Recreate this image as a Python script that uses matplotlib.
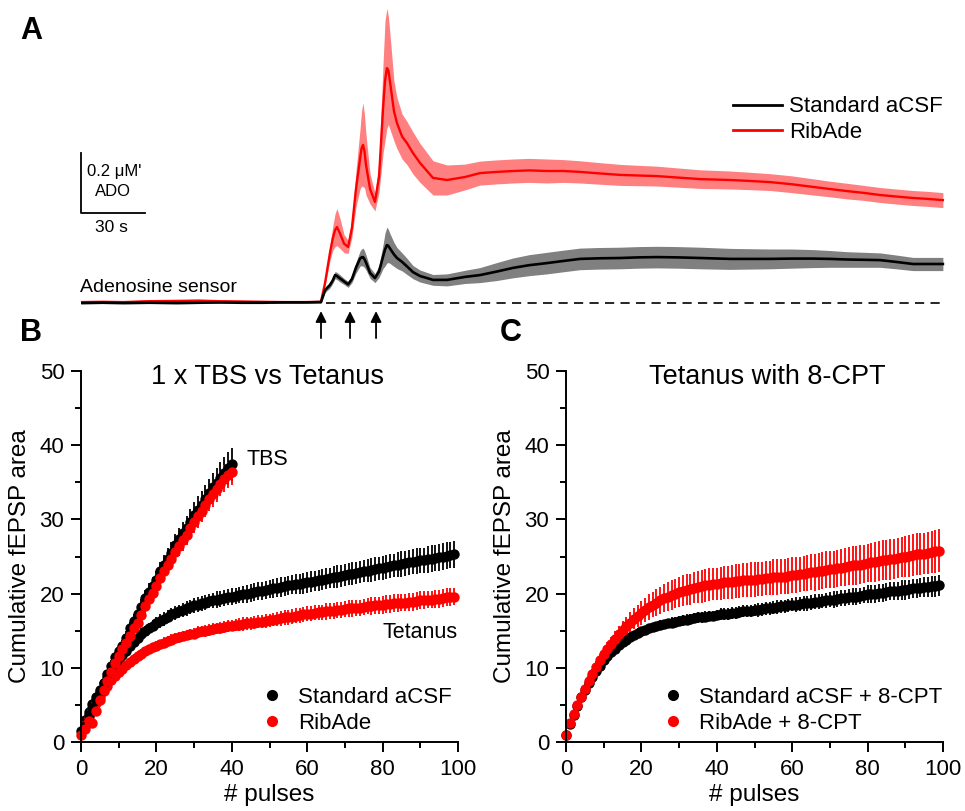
import numpy as np
import matplotlib
matplotlib.use("Agg")
import matplotlib.pyplot as plt
from matplotlib.lines import Line2D
from matplotlib.ticker import MultipleLocator

plt.rcParams["font.family"] = ["Liberation Sans", "DejaVu Sans"]

# --------------------------------------------------------------------------
# Panel A: adenosine sensor traces (seconds, uM)
# --------------------------------------------------------------------------
t_ado = [0, 10, 20, 32, 45, 55, 65, 75, 85, 95, 105, 112.5,
         114.4, 116.7, 118, 119.1, 120, 121.4, 123.3, 125.2, 127, 128.9,
         130.8, 131.5, 132.2, 132.9, 133.6, 135.5, 137.8, 139.7, 141.6, 142.5,
         143.4, 144.1, 144.8, 146.7, 148.1, 150.5, 152.8, 155.6, 158.9, 165,
         171.6, 180, 187, 195, 202.5, 210, 218.4, 226, 233.9, 243, 252.7,
         261, 270, 280, 290.2, 304.2, 313, 323, 333, 343.1, 351, 359.1,
         367, 374.5, 382, 390, 397, 404]
ribade_mean = [0.003, 0.004, 0.003, 0.006, 0.007, 0.008, 0.006, 0.005, 0.004, 0.003, 0.003, 0.004,
               0.067, 0.167, 0.215, 0.243, 0.253, 0.232, 0.198, 0.187, 0.250, 0.380,
               0.480, 0.515, 0.527, 0.505, 0.460, 0.380, 0.337, 0.420, 0.650, 0.740,
               0.783, 0.775, 0.740, 0.640, 0.600, 0.555, 0.533, 0.500, 0.467, 0.417,
               0.410, 0.420, 0.433, 0.437, 0.440, 0.442, 0.440, 0.440, 0.437, 0.432, 0.427,
               0.425, 0.423, 0.418, 0.413, 0.410, 0.407, 0.403, 0.396, 0.387, 0.380, 0.373,
               0.367, 0.360, 0.355, 0.350, 0.347, 0.343]
ribade_sem = [0.004, 0.004, 0.004, 0.004, 0.004, 0.004, 0.004, 0.004, 0.004, 0.004, 0.004, 0.004,
              0.010, 0.025, 0.040, 0.055, 0.062, 0.050, 0.030, 0.022, 0.030, 0.060,
              0.100, 0.125, 0.140, 0.120, 0.100, 0.050, 0.030, 0.050, 0.150, 0.200,
              0.200, 0.180, 0.160, 0.100, 0.085, 0.075, 0.072, 0.070, 0.065, 0.057,
              0.050, 0.043, 0.040, 0.040, 0.040, 0.040, 0.040, 0.038, 0.037, 0.036, 0.035,
              0.034, 0.033, 0.032, 0.031, 0.030, 0.029, 0.028, 0.028, 0.027, 0.026, 0.026,
              0.025, 0.025, 0.025, 0.025, 0.025, 0.025]
std_mean = [0.000, 0.001, 0.000, 0.001, 0.000, 0.001, 0.002, 0.001, 0.001, 0.002, 0.002, 0.003,
            0.043, 0.060, 0.075, 0.093, 0.090, 0.082, 0.072, 0.062, 0.080, 0.118,
            0.148, 0.152, 0.153, 0.146, 0.135, 0.100, 0.083, 0.105, 0.155, 0.178,
            0.193, 0.190, 0.182, 0.162, 0.150, 0.137, 0.122, 0.103, 0.090, 0.077,
            0.077, 0.087, 0.093, 0.105, 0.117, 0.126, 0.133, 0.140, 0.147, 0.149, 0.150,
            0.152, 0.153, 0.152, 0.150, 0.147, 0.147, 0.147, 0.148, 0.148, 0.147, 0.145,
            0.144, 0.143, 0.137, 0.130, 0.130, 0.130]
std_sem = [0.003, 0.003, 0.003, 0.003, 0.003, 0.003, 0.003, 0.003, 0.003, 0.003, 0.003, 0.003,
           0.008, 0.010, 0.010, 0.012, 0.012, 0.012, 0.010, 0.010, 0.012, 0.018,
           0.025, 0.028, 0.030, 0.028, 0.025, 0.018, 0.015, 0.020, 0.040, 0.055,
           0.060, 0.055, 0.050, 0.040, 0.035, 0.030, 0.027, 0.022, 0.020, 0.018,
           0.020, 0.022, 0.025, 0.030, 0.033, 0.035, 0.036, 0.036, 0.036, 0.036, 0.036,
           0.036, 0.036, 0.036, 0.036, 0.035, 0.034, 0.033, 0.032, 0.030, 0.028, 0.026,
           0.025, 0.024, 0.023, 0.022, 0.022, 0.022]
stim_times = [112.5, 126.1, 138.3]

# --------------------------------------------------------------------------
# Panel B: 1 x TBS vs tetanus, cumulative fEPSP area
# --------------------------------------------------------------------------
pulses_tet = np.arange(0, 100)
pulses_tbs = np.arange(1, 41)

tet_std = [1.5, 2.9, 4.0, 5.1, 6.1, 7.0, 7.9, 8.7, 9.5, 10.3,
           11.1, 11.7, 12.3, 12.9, 13.5, 14.0, 14.5, 14.9, 15.3, 15.7,
           16.0, 16.3, 16.6, 16.9, 17.2, 17.4, 17.6, 17.8, 18.0, 18.2,
           18.4, 18.5, 18.7, 18.8, 19.0, 19.1, 19.2, 19.3, 19.4, 19.5,
           19.6, 19.7, 19.8, 19.9, 20.0, 20.1, 20.2, 20.3, 20.4, 20.5,
           20.6, 20.7, 20.8, 20.9, 21.0, 21.1, 21.2, 21.3, 21.3, 21.4,
           21.5, 21.6, 21.7, 21.8, 21.9, 22.0, 22.1, 22.2, 22.3, 22.4,
           22.5, 22.6, 22.7, 22.8, 22.9, 23.0, 23.1, 23.2, 23.3, 23.4,
           23.5, 23.6, 23.7, 23.8, 23.9, 24.0, 24.1, 24.2, 24.3, 24.4,
           24.5, 24.5, 24.6, 24.7, 24.8, 24.9, 25.0, 25.1, 25.2, 25.3]
tet_std_err = [0.2, 0.3, 0.3, 0.4, 0.4, 0.5, 0.5, 0.5, 0.6, 0.6,
               0.6, 0.7, 0.7, 0.7, 0.7, 0.8, 0.8, 0.8, 0.8, 0.8,
               0.8, 0.9, 0.9, 0.9, 0.9, 0.9, 0.9, 1.0, 1.0, 1.0,
               1.0, 1.0, 1.0, 1.0, 1.0, 1.0, 1.1, 1.1, 1.1, 1.1,
               1.1, 1.1, 1.1, 1.1, 1.2, 1.2, 1.2, 1.2, 1.2, 1.2,
               1.2, 1.3, 1.3, 1.3, 1.3, 1.3, 1.3, 1.3, 1.3, 1.4,
               1.4, 1.4, 1.4, 1.4, 1.4, 1.4, 1.4, 1.5, 1.5, 1.5,
               1.5, 1.5, 1.5, 1.5, 1.5, 1.5, 1.6, 1.6, 1.6, 1.6,
               1.6, 1.6, 1.6, 1.6, 1.7, 1.7, 1.7, 1.7, 1.7, 1.7,
               1.7, 1.7, 1.8, 1.8, 1.8, 1.8, 1.8, 1.8, 1.8, 1.8]
tet_rib = [1.0, 2.3, 3.4, 4.4, 5.3, 6.1, 6.9, 7.6, 8.3, 8.9,
           9.4, 9.9, 10.4, 10.8, 11.2, 11.6, 11.9, 12.2, 12.5, 12.8,
           13.0, 13.2, 13.4, 13.6, 13.8, 14.0, 14.1, 14.3, 14.4, 14.5,
           14.6, 14.8, 14.9, 15.0, 15.1, 15.2, 15.3, 15.4, 15.5, 15.6,
           15.7, 15.8, 15.8, 15.9, 16.0, 16.0, 16.1, 16.2, 16.2, 16.3,
           16.4, 16.5, 16.6, 16.7, 16.8, 16.8, 16.9, 17.0, 17.1, 17.2,
           17.3, 17.3, 17.4, 17.5, 17.5, 17.6, 17.7, 17.7, 17.8, 17.8,
           17.9, 18.0, 18.0, 18.1, 18.1, 18.2, 18.3, 18.3, 18.4, 18.4,
           18.5, 18.6, 18.6, 18.7, 18.7, 18.8, 18.8, 18.9, 18.9, 19.0,
           19.1, 19.1, 19.2, 19.2, 19.3, 19.3, 19.4, 19.5, 19.5, 19.6]
tet_rib_err = [0.2, 0.2, 0.3, 0.3, 0.3, 0.4, 0.4, 0.4, 0.4, 0.5,
               0.5, 0.5, 0.5, 0.5, 0.6, 0.6, 0.6, 0.6, 0.6, 0.6,
               0.6, 0.6, 0.7, 0.7, 0.7, 0.7, 0.7, 0.7, 0.7, 0.7,
               0.7, 0.8, 0.8, 0.8, 0.8, 0.8, 0.8, 0.8, 0.8, 0.8,
               0.8, 0.8, 0.9, 0.9, 0.9, 0.9, 0.9, 0.9, 0.9, 0.9,
               0.9, 0.9, 0.9, 1.0, 1.0, 1.0, 1.0, 1.0, 1.0, 1.0,
               1.0, 1.0, 1.0, 1.0, 1.0, 1.1, 1.1, 1.1, 1.1, 1.1,
               1.1, 1.1, 1.1, 1.1, 1.1, 1.1, 1.1, 1.2, 1.2, 1.2,
               1.2, 1.2, 1.2, 1.2, 1.2, 1.2, 1.2, 1.2, 1.2, 1.2,
               1.2, 1.2, 1.2, 1.2, 1.2, 1.2, 1.2, 1.2, 1.2, 1.2]
tbs_std = [2.2, 3.6, 4.6, 5.6, 6.8, 8.0, 9.1, 10.3, 11.4, 12.2,
           13.0, 14.0, 15.3, 16.3, 17.2, 18.2, 19.4, 20.2, 21.0, 21.9,
           23.0, 23.9, 24.7, 25.5, 26.5, 27.3, 28.1, 28.8, 29.7, 30.6,
           31.3, 32.0, 32.8, 33.6, 34.3, 34.9, 35.6, 36.3, 36.9, 37.4]
tbs_std_err = [0.3, 0.4, 0.4, 0.5, 0.5, 0.6, 0.6, 0.7, 0.7, 0.8,
               0.8, 0.9, 0.9, 1.0, 1.0, 1.1, 1.1, 1.2, 1.2, 1.2,
               1.3, 1.3, 1.4, 1.4, 1.5, 1.5, 1.6, 1.6, 1.7, 1.7,
               1.8, 1.8, 1.9, 1.9, 2.0, 2.0, 2.1, 2.1, 2.2, 2.2]
tbs_rib = [1.8, 2.8, 2.6, 4.2, 5.6, 7.0, 8.2, 9.4, 10.6, 11.6,
           12.5, 13.3, 14.3, 15.3, 16.1, 17.1, 18.3, 19.3, 20.1, 21.0,
           22.1, 23.0, 23.8, 24.6, 25.6, 26.4, 27.2, 27.9, 28.8, 29.6,
           30.4, 31.1, 31.9, 32.7, 33.4, 34.1, 34.8, 35.5, 36.0, 36.4]
tbs_rib_err = [0.3, 0.3, 0.4, 0.4, 0.5, 0.5, 0.5, 0.6, 0.6, 0.7,
               0.7, 0.8, 0.8, 0.8, 0.9, 0.9, 1.0, 1.0, 1.0, 1.1,
               1.1, 1.2, 1.2, 1.2, 1.3, 1.3, 1.4, 1.4, 1.4, 1.5,
               1.5, 1.5, 1.6, 1.6, 1.7, 1.7, 1.7, 1.8, 1.8, 1.8]

# --------------------------------------------------------------------------
# Panel C: tetanus with 8-CPT
# --------------------------------------------------------------------------
cpt_std = [1.0, 2.4, 3.7, 4.9, 6.0, 7.0, 7.9, 8.8, 9.6, 10.3,
           11.0, 11.6, 12.1, 12.6, 13.1, 13.5, 13.8, 14.1, 14.4, 14.7,
           14.9, 15.1, 15.3, 15.5, 15.6, 15.8, 15.9, 16.0, 16.1, 16.2,
           16.3, 16.4, 16.5, 16.6, 16.7, 16.8, 16.8, 16.9, 17.0, 17.0,
           17.1, 17.2, 17.2, 17.3, 17.4, 17.4, 17.5, 17.6, 17.6, 17.7,
           17.8, 17.8, 17.9, 18.0, 18.0, 18.1, 18.2, 18.3, 18.3, 18.4,
           18.5, 18.5, 18.6, 18.7, 18.7, 18.8, 18.9, 18.9, 19.0, 19.1,
           19.2, 19.2, 19.3, 19.4, 19.4, 19.5, 19.6, 19.6, 19.7, 19.8,
           19.9, 19.9, 20.0, 20.1, 20.1, 20.2, 20.3, 20.3, 20.4, 20.5,
           20.5, 20.6, 20.7, 20.7, 20.8, 20.9, 20.9, 21.0, 21.0, 21.1]
cpt_std_err = [0.1, 0.2, 0.2, 0.3, 0.3, 0.3, 0.3, 0.4, 0.4, 0.4,
               0.4, 0.4, 0.5, 0.5, 0.5, 0.5, 0.5, 0.5, 0.5, 0.6,
               0.6, 0.6, 0.6, 0.6, 0.6, 0.6, 0.6, 0.6, 0.7, 0.7,
               0.7, 0.7, 0.7, 0.7, 0.7, 0.7, 0.7, 0.7, 0.7, 0.7,
               0.7, 0.8, 0.8, 0.8, 0.8, 0.8, 0.8, 0.8, 0.8, 0.8,
               0.8, 0.9, 0.9, 0.9, 0.9, 0.9, 0.9, 0.9, 0.9, 0.9,
               0.9, 1.0, 1.0, 1.0, 1.0, 1.0, 1.0, 1.0, 1.0, 1.0,
               1.0, 1.1, 1.1, 1.1, 1.1, 1.1, 1.1, 1.1, 1.1, 1.1,
               1.2, 1.2, 1.2, 1.2, 1.2, 1.2, 1.2, 1.2, 1.2, 1.3,
               1.3, 1.3, 1.3, 1.3, 1.3, 1.3, 1.3, 1.4, 1.4, 1.4]
cpt_rib = [1.0, 2.5, 3.8, 5.0, 6.1, 7.2, 8.2, 9.2, 10.1, 11.0,
           11.8, 12.5, 13.2, 13.9, 14.5, 15.1, 15.6, 16.1, 16.6, 17.0,
           17.4, 17.8, 18.2, 18.5, 18.8, 19.1, 19.4, 19.6, 19.8, 20.0,
           20.2, 20.4, 20.5, 20.6, 20.8, 20.9, 21.0, 21.1, 21.2, 21.3,
           21.3, 21.4, 21.5, 21.5, 21.6, 21.7, 21.7, 21.8, 21.8, 21.9,
           21.9, 22.0, 22.0, 22.1, 22.1, 22.2, 22.2, 22.3, 22.3, 22.4,
           22.5, 22.5, 22.6, 22.7, 22.8, 22.9, 22.9, 23.0, 23.1, 23.2,
           23.3, 23.3, 23.4, 23.5, 23.6, 23.7, 23.8, 23.8, 23.9, 24.0,
           24.1, 24.2, 24.3, 24.4, 24.5, 24.5, 24.6, 24.7, 24.8, 24.9,
           25.0, 25.1, 25.2, 25.3, 25.3, 25.4, 25.5, 25.6, 25.7, 25.8]
cpt_rib_err = [0.2, 0.3, 0.4, 0.5, 0.5, 0.6, 0.7, 0.7, 0.8, 0.8,
               0.9, 1.0, 1.0, 1.1, 1.2, 1.2, 1.3, 1.4, 1.4, 1.5,
               1.6, 1.6, 1.7, 1.7, 1.8, 1.8, 1.9, 1.9, 2.0, 2.0,
               2.0, 2.1, 2.1, 2.1, 2.1, 2.2, 2.2, 2.2, 2.2, 2.2,
               2.2, 2.2, 2.2, 2.2, 2.3, 2.3, 2.3, 2.3, 2.3, 2.3,
               2.3, 2.3, 2.3, 2.3, 2.3, 2.4, 2.4, 2.4, 2.4, 2.4,
               2.4, 2.4, 2.4, 2.4, 2.4, 2.4, 2.5, 2.5, 2.5, 2.5,
               2.5, 2.5, 2.5, 2.5, 2.6, 2.6, 2.6, 2.6, 2.6, 2.6,
               2.6, 2.6, 2.7, 2.7, 2.7, 2.7, 2.7, 2.7, 2.7, 2.7,
               2.8, 2.8, 2.8, 2.8, 2.8, 2.8, 2.8, 2.8, 2.9, 2.9]

RED = "#ff0000"
BLACK = "#000000"

W, H = 965, 811


def px_axes(left, top, right, bottom):
    """figure-fraction rect from pixel box (origin top-left)"""
    return [left / W, (H - bottom) / H, (right - left) / W, (bottom - top) / H]


fig = plt.figure(figsize=(W / 100, H / 100), dpi=100)

# ---- panel A ----
axA = fig.add_axes(px_axes(81, 0, 945, 345))
axA.fill_between(t_ado, np.array(std_mean) - std_sem, np.array(std_mean) + std_sem,
                 color="#808080", lw=0)
axA.fill_between(t_ado, np.array(ribade_mean) - ribade_sem,
                 np.array(ribade_mean) + ribade_sem, color="#ff8080", lw=0)
axA.plot(t_ado, ribade_mean, color=RED, lw=1.7, label="RibAde")
axA.plot(t_ado, std_mean, color=BLACK, lw=1.9, label="Standard aCSF")
axA.plot([stim_times[0] + 2.3, 405], [0, 0], color=BLACK, lw=1.2,
         dashes=(5.5, 3.8))
for ts in stim_times:
    axA.annotate("", xy=(ts, -0.027), xytext=(ts, -0.117),
                 arrowprops=dict(arrowstyle="-|>", color=BLACK, lw=1.3,
                                 mutation_scale=16, shrinkA=0, shrinkB=0),
                 annotation_clip=False)
# scale bar: 0.2 uM by 30 s
axA.plot([0, 0, 30], [0.5, 0.3, 0.3], color=BLACK, lw=1.3, clip_on=False)
axA.text(2.8, 0.437, "0.2 \u03bcM'", fontsize=12, ha="left", va="center")
axA.text(15, 0.37, "ADO", fontsize=12, ha="center", va="center")
axA.text(14.5, 0.25, "30 s", fontsize=12.5, ha="center", va="center")
axA.text(-0.5, 0.053, "Adenosine sensor", fontsize=14, ha="left", va="center")
axA.set_xlim(0, 405)
axA.set_ylim(-0.14, 1.01)
axA.axis("off")
handles = [Line2D([], [], color=BLACK, lw=2), Line2D([], [], color=RED, lw=2)]
axA.legend(handles, ["Standard aCSF", "RibAde"], loc="center left",
           bbox_to_anchor=(0.7546, 0.6536), frameon=False, fontsize=16,
           handlelength=2.2, handletextpad=0.32, labelspacing=0.2,
           borderpad=0, borderaxespad=0)


def style_cum_axes(ax):
    ax.set_xlim(0, 100)
    ax.set_ylim(0, 50)
    for side in ("top", "right"):
        ax.spines[side].set_visible(False)
    for side in ("left", "bottom"):
        ax.spines[side].set_linewidth(1.4)
    ax.xaxis.set_major_locator(MultipleLocator(20))
    ax.xaxis.set_minor_locator(MultipleLocator(10))
    ax.yaxis.set_major_locator(MultipleLocator(10))
    ax.yaxis.set_minor_locator(MultipleLocator(5))
    ax.tick_params(which="major", direction="out", length=7, width=1.4,
                   labelsize=16, pad=5)
    ax.tick_params(which="minor", direction="out", length=4, width=1.4)
    ax.set_xlabel("# pulses", fontsize=17.5, labelpad=3)
    ax.set_ylabel("Cumulative fEPSP area", fontsize=17.5, labelpad=6)


def draw_series(ax, x, y, err, color):
    ax.errorbar(x, y, yerr=err, fmt="o", color=color, ms=7.5, mew=0,
                elinewidth=1.3, capsize=0, clip_on=False)


# ---- panel B ----
axB = fig.add_axes(px_axes(81, 371, 458, 742))
style_cum_axes(axB)
draw_series(axB, pulses_tet, tet_std, tet_std_err, BLACK)
draw_series(axB, pulses_tet, tet_rib, tet_rib_err, RED)
draw_series(axB, pulses_tbs, tbs_std, tbs_std_err, BLACK)
draw_series(axB, pulses_tbs, tbs_rib, tbs_rib_err, RED)
axB.text(49.5, 49.2, "1 x TBS vs Tetanus", fontsize=19.5, ha="center", va="center")
axB.text(44, 38.1, "TBS", fontsize=15.5, ha="left", va="center")
axB.text(100, 14.7, "Tetanus", fontsize=15.5, ha="right", va="center")
hB = [Line2D([], [], marker="o", ls="none", color=BLACK, ms=8, mew=0),
      Line2D([], [], marker="o", ls="none", color=RED, ms=8, mew=0)]
axB.legend(hB, ["Standard aCSF", "RibAde"], loc="center left",
           bbox_to_anchor=(0.477, 0.085), frameon=False, fontsize=16,
           handlelength=1.0, handletextpad=0.67, labelspacing=0.2,
           borderpad=0, borderaxespad=0)

# ---- panel C ----
axC = fig.add_axes(px_axes(566, 371, 943, 742))
style_cum_axes(axC)
draw_series(axC, pulses_tet, cpt_std, cpt_std_err, BLACK)
draw_series(axC, pulses_tet, cpt_rib, cpt_rib_err, RED)
axC.text(53.3, 49.2, "Tetanus with 8-CPT", fontsize=19.5, ha="center", va="center")
axC.legend(hB, ["Standard aCSF + 8-CPT", "RibAde + 8-CPT"], loc="center left",
           bbox_to_anchor=(0.255, 0.085), frameon=False, fontsize=16,
           handlelength=1.0, handletextpad=0.67, labelspacing=0.2,
           borderpad=0, borderaxespad=0)

# ---- panel letters ----
for letter, (px, py) in {"A": (31, 31), "B": (31, 333), "C": (511, 333)}.items():
    fig.text(px / W, 1 - py / H, letter, fontsize=22, fontweight="bold",
             ha="center", va="center")

fig.savefig("out.png", dpi=100)
